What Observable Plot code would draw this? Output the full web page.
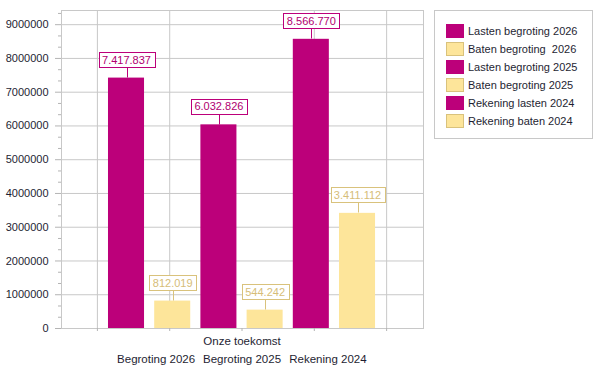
<!DOCTYPE html>
<html><head><meta charset="utf-8">
<script src="https://cdn.jsdelivr.net/npm/d3@7"></script>
<script src="https://cdn.jsdelivr.net/npm/@observablehq/plot@0.6"></script>
<style>
body{margin:0;background:#fff;font-family:"Liberation Sans",Arial,sans-serif}
#wrap{position:relative;width:602px;height:374px;overflow:hidden}
#legend{position:absolute;left:434px;top:10px;width:159px;height:129px;border:1px solid #c8c8c8;box-sizing:border-box;background:#fff}
.item{position:absolute;left:11px;height:14px;font-size:11px;color:#1e1e32;white-space:pre;line-height:14px}
.sw{position:absolute;left:0;top:0;width:18px;height:14px;box-sizing:border-box;border:1px solid}
.lab{position:absolute;left:22px;top:0}
</style></head>
<body><div id="wrap"><div id="chart"></div><div id="legend"></div></div>
<script>
const series = ["Lasten begroting 2026", "Baten begroting  2026", "Lasten begroting 2025", "Baten begroting 2025", "Rekening lasten 2024", "Rekening baten 2024"];
const kinds = ["lasten", "baten", "lasten", "baten", "lasten", "baten"];
const values = [7417837, 812019, 6032826, 544242, 8566770, 3411112];
const valueLabels = ["7.417.837", "812.019", "6.032.826", "544.242", "8.566.770", "3.411.112"];
const groupTitle = "Onze toekomst";
const groupLabels = ["Begroting 2026", "Begroting 2025", "Rekening 2024"];
const yTicks = [0, 1000000, 2000000, 3000000, 4000000, 5000000, 6000000, 7000000, 8000000, 9000000];

const fillColor = {lasten: "#bc007a", baten: "#fde59a"};
const borderColor = {lasten: "#bc007a", baten: "#d9c27c"};
const textColor = {lasten: "#b0006f", baten: "#d6bd78"};

const data = series.map((s, i) => ({i, series: s, kind: kinds[i], value: values[i], label: valueLabels[i]}));
const minorTicks = d3.range(0, 9400000, 1000000 / 3).filter(v => Math.abs(v / 1000000 - Math.round(v / 1000000)) > 0.01);
const center = (data.length - 1) / 2;
const xTicks = d3.range(5).map(k => center + (k - 2) * 1.565);
const xGrid = xTicks.filter((v, k) => k !== 2);
const groupX = groupLabels.map((g, k) => center + (k - 1) * 1.86);

const chart = Plot.plot({
  width: 602, height: 374,
  marginLeft: 61, marginRight: 179, marginTop: 10, marginBottom: 46,
  style: {fontFamily: "'Liberation Sans', Arial, sans-serif", fontSize: "11px", color: "#1e1e32", background: "#fff"},
  x: {type: "linear", domain: [-1.407, 6.428], axis: null},
  y: {domain: [0, 9420000], axis: null},
  marks: [
    Plot.ruleY(yTicks, {stroke: "#c8c8c8"}),
    Plot.ruleX(xGrid, {stroke: "#c8c8c8"}),
    Plot.frame({stroke: "#c8c8c8"}),
    Plot.axisY({ticks: yTicks, tickSize: 6, tickPadding: 7, tickFormat: d3.format("d"), stroke: "#b4b4b4", fill: "#1e1e32", label: null}),
    Plot.axisY({ticks: minorTicks, tickSize: 3, text: null, stroke: "#b4b4b4", label: null}),
    Plot.axisX({ticks: xTicks, tickSize: 3, text: null, stroke: "#b4b4b4", label: null}),
    Plot.rectY(data, {x1: d => d.i - 0.39, x2: d => d.i + 0.39, y: "value", fill: d => fillColor[d.kind]}),
    Plot.text(data, {x: "i", y: "value", text: "label", dy: -18, fill: d => textColor[d.kind], fontSize: 11}),
    Plot.text([groupTitle], {x: [center], frameAnchor: "bottom", dy: 16, fontSize: 11.5, fill: "#1e1e32"}),
    Plot.text(groupLabels, {x: groupX, frameAnchor: "bottom", dy: 34, fontSize: 11.5, fill: "#1e1e32"})
  ]
});
document.getElementById("chart").appendChild(chart);

// boxes + connectors around value labels (drawn in svg pixel space)
const svgBox = chart.getBoundingClientRect();
const ns = "http://www.w3.org/2000/svg";
const boxLayer = document.createElementNS(ns, "g");
const textNodes = Array.from(chart.querySelectorAll("text")).filter(t => valueLabels.includes(t.textContent));
const firstTextG = textNodes.length ? textNodes[0].parentNode : null;
textNodes.forEach(t => {
  const k = valueLabels.indexOf(t.textContent);
  const d = data[k];
  const bb = t.getBoundingClientRect();
  const w = Math.round(bb.width + 7), h = 15;
  const cx = bb.left - svgBox.left + bb.width / 2;
  const cy = bb.top - svgBox.top + bb.height / 2;
  const x0 = Math.round(cx - w / 2) + 0.5, y0 = Math.round(cy - h / 2) + 0.5;
  const l = document.createElementNS(ns, "line");
  const lx = Math.round(cx) + 0.5;
  l.setAttribute("x1", lx); l.setAttribute("x2", lx);
  l.setAttribute("y1", y0 + h); l.setAttribute("y2", y0 + h + 10);
  l.setAttribute("stroke", borderColor[d.kind]);
  boxLayer.appendChild(l);
  const r = document.createElementNS(ns, "rect");
  r.setAttribute("x", x0);
  r.setAttribute("y", y0);
  r.setAttribute("width", w);
  r.setAttribute("height", h);
  r.setAttribute("fill", "#fff");
  r.setAttribute("stroke", borderColor[d.kind]);
  boxLayer.appendChild(r);
});
if (firstTextG) chart.insertBefore(boxLayer, firstTextG);

// legend
const legend = document.getElementById("legend");
series.forEach((s, i) => {
  const it = document.createElement("div");
  it.className = "item";
  it.style.top = (13 + i * 18) + "px";
  const sw = document.createElement("div");
  sw.className = "sw";
  sw.style.background = fillColor[kinds[i]];
  sw.style.borderColor = borderColor[kinds[i]];
  const lb = document.createElement("span");
  lb.className = "lab";
  lb.textContent = s;
  it.appendChild(sw); it.appendChild(lb);
  legend.appendChild(it);
});
</script>
</body></html>
